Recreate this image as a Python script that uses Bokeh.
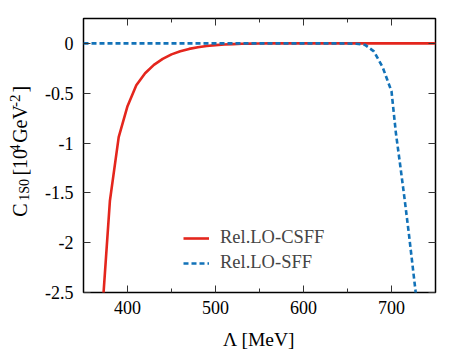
import math
from bokeh.plotting import figure
from bokeh.layouts import row, column
from bokeh.models import (LinearAxis, FixedTicker, Legend, LegendItem,
                          CustomJSTickFormatter, Range1d)
from bokeh.core.properties import value
from bokeh.embed import file_html
from bokeh.resources import INLINE

# ---------------- data ----------------
lam_csff = [370, 380, 390, 400, 410, 420, 430, 440, 450, 460, 470, 480, 490,
            500, 510, 520, 530, 540, 550, 560, 580, 600, 620, 640, 660, 680,
            700, 720, 740, 750]
c_csff = [-2.86, -1.58, -0.94, -0.63, -0.42, -0.30, -0.215, -0.155, -0.11,
          -0.078, -0.055, -0.038, -0.026, -0.017, -0.011, -0.007, -0.004,
          -0.002, -0.001, 0.0, 0.0, 0.0, 0.0, 0.0, 0.0, 0.0, 0.0, 0.0, 0.0, 0.0]

lam_sff = [350, 400, 450, 500, 550, 600, 640, 650, 660, 670, 680, 690, 695,
           700, 705, 710, 715, 720, 725, 730]
c_sff = [0.0, 0.0, 0.0, 0.0, 0.0, 0.0, 0.0, -0.001, -0.003, -0.015, -0.08,
         -0.24, -0.36, -0.48, -0.90, -1.23, -1.57, -1.93, -2.31, -2.69]

series_names = ["Rel.LO-CSFF", "Rel.LO-SFF"]
x_ticks = [400, 500, 600, 700]
x_minor_ticks = [450, 550, 650]
y_ticks = [-2.5, -2, -1.5, -1, -0.5, 0]
y_tick_labels = ["-2.5", "-2", "-1.5", "-1", "-0.5", "0"]
x_label = "Λ [MeV]"
# y label pieces: text, role (main / subscript / superscript)
y_label_parts = [("C", "main"), ("1S0", "sub"), ("[10", "main"), ("4", "sup"),
                 ("GeV", "main"), ("-2", "sup2"), ("]", "main")]

# ---------------- styling ----------------
FONT = "'Liberation Serif'"
RED = "#e4261d"
BLUE = "#1272b8"
X0, X1 = 350, 750
Y0, Y1 = -2.5, 0.25
TOTAL_W, TOTAL_H = 463, 350
LW = 40                     # width of the strip holding the y title
BH = 24                     # height of the strip holding the x title
W, H = TOTAL_W - LW, TOTAL_H - BH
ML, MR, MT, MB = 83 - LW, 28, 18, H - 292

p = figure(width=W, height=H, x_range=Range1d(X0, X1), y_range=Range1d(Y0, Y1),
           output_backend="svg", toolbar_location=None,
           min_border_left=ML, min_border_right=MR,
           min_border_top=MT, min_border_bottom=MB)
p.xgrid.visible = False
p.ygrid.visible = False
p.outline_line_color = "black"
p.outline_line_width = 1.5
p.background_fill_color = "white"
p.border_fill_color = "white"


def style_axis(ax, labels=True):
    ax.axis_line_color = None
    ax.major_tick_in = 7
    ax.major_tick_out = 0
    ax.minor_tick_in = 4
    ax.minor_tick_out = 0
    ax.major_tick_line_color = "#333333"
    ax.minor_tick_line_color = "#333333"
    ax.major_label_text_font = FONT
    ax.major_label_text_font_size = "18px"
    ax.major_label_text_color = "black"
    if not labels:
        ax.formatter = CustomJSTickFormatter(code="return ''")


p.xaxis.ticker = FixedTicker(ticks=x_ticks, minor_ticks=x_minor_ticks)
p.yaxis.ticker = FixedTicker(ticks=y_ticks, minor_ticks=[])
style_axis(p.xaxis[0])
style_axis(p.yaxis[0])
p.xaxis.major_label_standoff = 8
p.yaxis.major_label_standoff = 10
p.yaxis.major_label_overrides = {v: s for v, s in zip(y_ticks, y_tick_labels)}

top = LinearAxis(ticker=FixedTicker(ticks=x_ticks, minor_ticks=x_minor_ticks))
right = LinearAxis(ticker=FixedTicker(ticks=y_ticks, minor_ticks=[]))
style_axis(top, labels=False)
style_axis(right, labels=False)
p.add_layout(top, "above")
p.add_layout(right, "right")

r1 = p.line(lam_csff, c_csff, line_color=RED, line_width=2.6)
r2 = p.line(lam_sff, c_sff, line_color=BLUE, line_width=2.6, line_dash="5 3")

legend = Legend(items=[LegendItem(label=series_names[0], renderers=[r1]),
                       LegendItem(label=series_names[1], renderers=[r2])],
                location=(90, 9), border_line_alpha=0, background_fill_alpha=0,
                label_text_font=FONT, label_text_font_size="18.5px",
                glyph_width=26, glyph_height=20, label_height=20,
                label_standoff=11, spacing=4, padding=10, margin=0)
p.add_layout(legend)


def strip(w, h):
    f = figure(width=w, height=h, x_range=Range1d(0, w), y_range=Range1d(h, 0),
               output_backend="svg", toolbar_location=None,
               x_axis_location=None, y_axis_location=None, min_border=0)
    f.xgrid.visible = False
    f.ygrid.visible = False
    f.outline_line_color = None
    f.background_fill_color = "white"
    f.border_fill_color = "white"
    return f


# ---------------- y title strip (pixel-like coordinates, y downwards) --------
q = strip(LW, H)
centers = [228, 204, 171, 154, 125.5, 98, 84]
role_style = {"main": (19.5, "20px"), "sub": (23.5, "14px"),
              "sup": (14, "14px"), "sup2": (14, "15px")}
for (txt, role), cy in zip(y_label_parts, centers):
    bx, fs = role_style[role]
    q.text(x=[bx], y=[cy], text=[txt], angle=math.pi / 2,
           text_align="center", text_baseline="alphabetic",
           text_font=value(FONT), text_font_size=fs, text_color="black")

# ---------------- x title strip ----------------
r = strip(TOTAL_W, BH)
r.text(x=[258.5], y=[12.5], text=[x_label], text_align="center",
       text_baseline="alphabetic", text_font=value(FONT),
       text_font_size="19.5px", text_color="black")

layout = column(row(q, p, spacing=0), r, spacing=0)
open("out.html", "w").write(file_html(layout, INLINE))
